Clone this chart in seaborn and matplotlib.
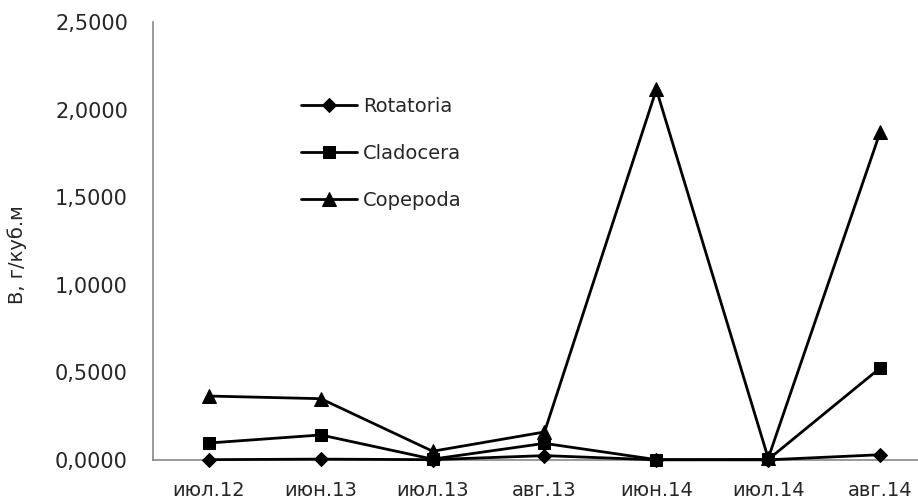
import matplotlib
matplotlib.use("Agg")
import matplotlib.pyplot as plt
import seaborn as sns
import pandas as pd

# Sampling dates (month.year)
periods = ["июл.12", "июн.13", "июл.13", "авг.13", "июн.14", "июл.14", "авг.14"]

# Biomass, g per cubic metre
rotatoria = [0.002, 0.005, 0.002, 0.025, 0.001, 0.001, 0.030]
cladocera = [0.097, 0.143, 0.005, 0.095, 0.002, 0.003, 0.525]
copepoda = [0.365, 0.350, 0.050, 0.160, 2.115, 0.010, 1.870]

y_ticks = [0.0, 0.5, 1.0, 1.5, 2.0, 2.5]

sns.set_theme(style="white")
plt.rcParams["font.family"] = ["DejaVu Sans"]

df = pd.DataFrame({
    "pos": list(range(len(periods))) * 3,
    "B": rotatoria + cladocera + copepoda,
    "group": ["Rotatoria"] * len(periods) + ["Cladocera"] * len(periods) + ["Copepoda"] * len(periods),
})

fig = plt.figure(figsize=(9.18, 5.03), dpi=100)
ax = fig.add_axes([153 / 918, 43 / 503, 783 / 918, 438 / 503])

markers = {"Rotatoria": "D", "Cladocera": "s", "Copepoda": "^"}
sizes = {"Rotatoria": 7, "Cladocera": 9, "Copepoda": 10}
for name in ["Rotatoria", "Cladocera", "Copepoda"]:
    sub = df[df["group"] == name]
    sns.lineplot(data=sub, x="pos", y="B", ax=ax, color="black", linewidth=2.0,
                 marker=markers[name], markersize=sizes[name],
                 markeredgecolor="black", markerfacecolor="black",
                 label=name, zorder=3, clip_on=False)

ax.set_xlim(-0.5, len(periods) - 0.5)
ax.set_ylim(0, 2.5)
ax.set_xticks(range(len(periods)))
ax.set_xticklabels(periods)
ax.set_yticks(y_ticks)
ax.set_yticklabels([f"{v:.4f}".replace(".", ",") for v in y_ticks])
ax.tick_params(axis="both", length=0, labelsize=14, colors="#262626")
ax.tick_params(axis="y", labelsize=15, pad=18)
ax.tick_params(axis="x", pad=15)
ax.set_xlabel("")
ax.set_ylabel("В, г/куб.м", fontsize=14, color="#262626")
ax.yaxis.set_label_coords(-0.161, 0.47)

for side in ["top", "right"]:
    ax.spines[side].set_visible(False)
for side in ["left", "bottom"]:
    ax.spines[side].set_color("#888888")
    ax.spines[side].set_linewidth(1.2)

ax.legend(loc="upper left", bbox_to_anchor=(140 / 783, 1 - 67 / 438), frameon=False,
          fontsize=14, handlelength=2.9, labelspacing=1.45, handletextpad=0.3,
          borderaxespad=0)

fig.savefig("out.png", dpi=100)
